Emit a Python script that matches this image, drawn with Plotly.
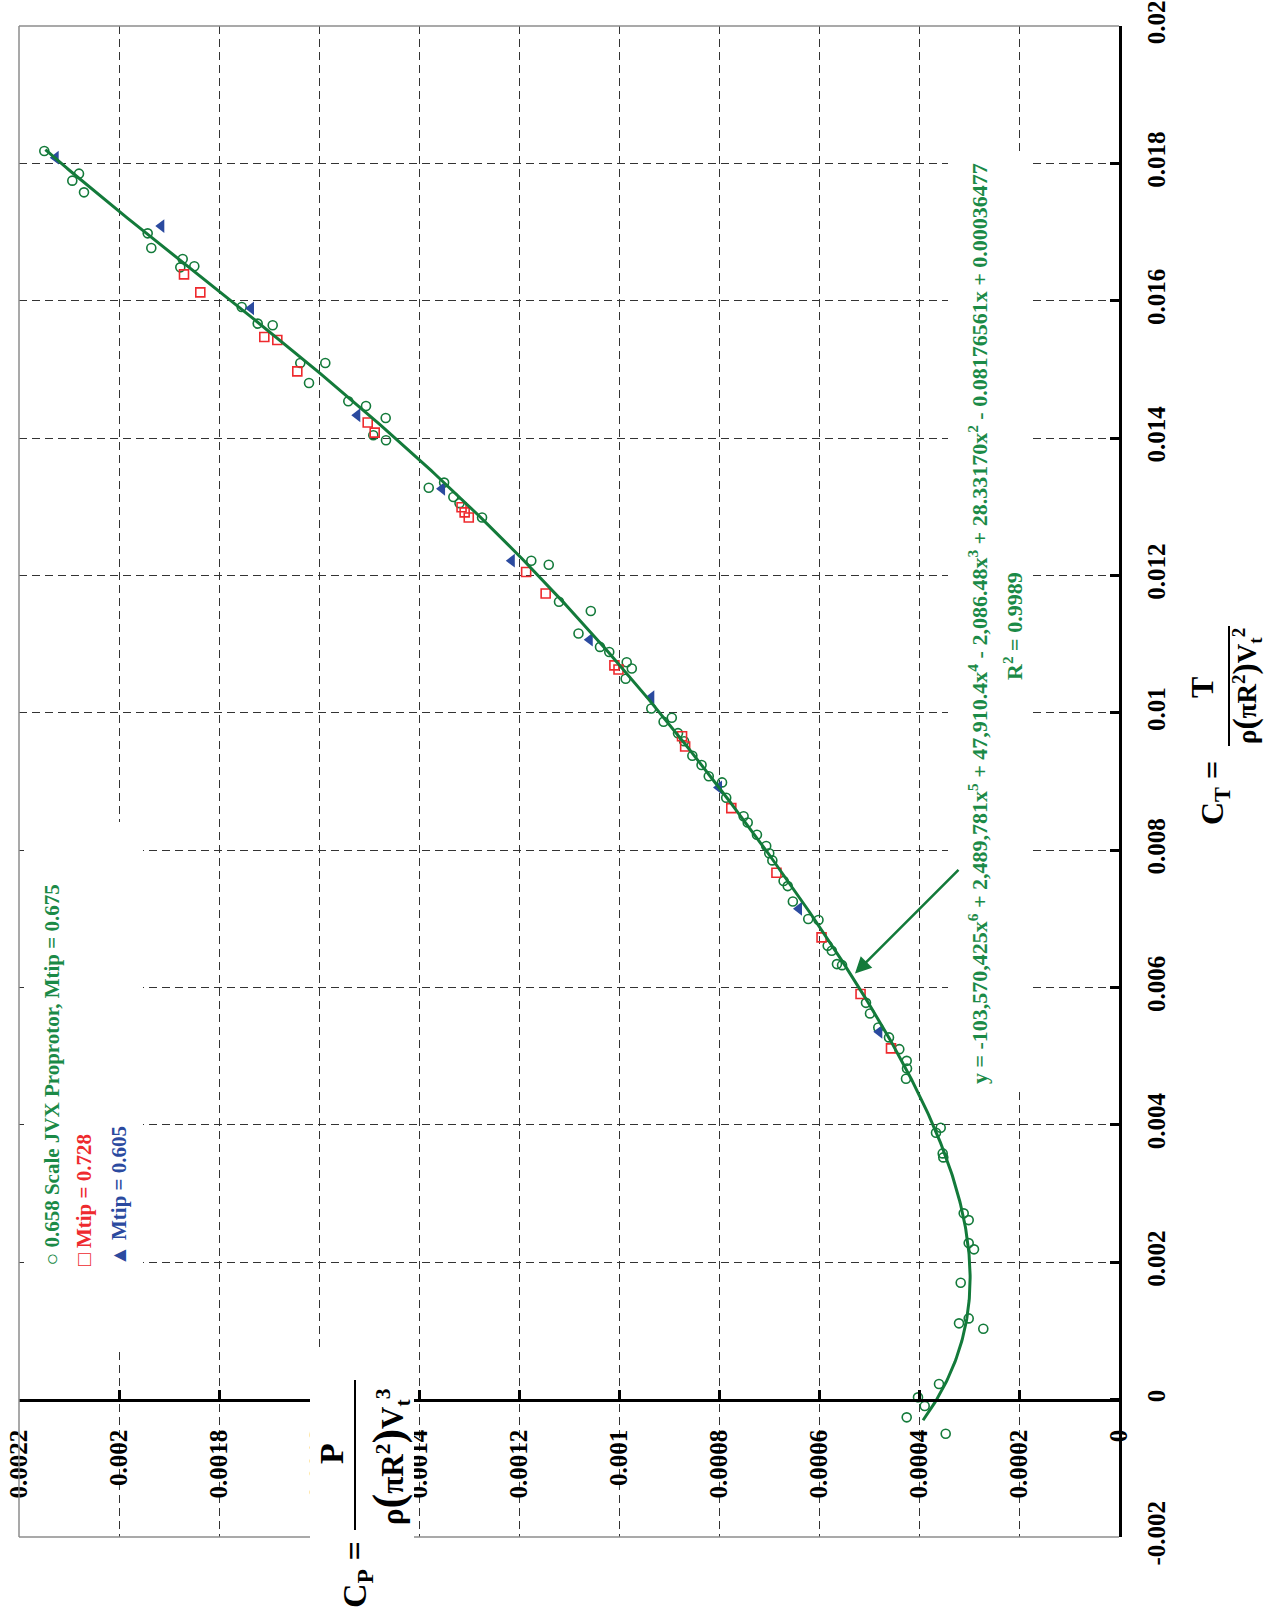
import numpy as np
import plotly.graph_objects as go

# ---------------- data (CT = thrust coeff, CP = power coeff) ----------------
ct_green = [0.018179, 0.01785, 0.017748, 0.017578, 0.016981, 0.016767, 0.016607, 0.016486, 0.016501,
            0.015908, 0.015667, 0.015642, 0.015093, 0.015093, 0.014802, 0.014536, 0.014467, 0.014293,
            0.014041, 0.013968, 0.013277, 0.013352, 0.013142, 0.013053, 0.012843, 0.012215, 0.012156,
            0.011618, 0.011483, 0.011154, 0.01096, 0.010885, 0.010736, 0.010646, 0.010497, 0.010063,
            0.009869, 0.009928, 0.009704, 0.009585, 0.009375, 0.009241, 0.009077, 0.008987, 0.008763,
            0.008493, 0.008404, 0.008224, 0.00806, 0.007955, 0.007851, 0.007552, 0.007477, 0.007253,
            0.006999, 0.006984, 0.00661, 0.006535, 0.006341, 0.006326, 0.005777, 0.005623, 0.005419,
            0.005274, 0.005103, 0.004933, 0.004822, 0.004671, 0.003958, 0.003885, 0.003585, 0.003527,
            0.002712, 0.002614, 0.002279, 0.002188, 0.001702, 0.001183, 0.001111, 0.001032, 0.000227,
            0.0000335, -0.0000932, -0.000258, -0.000496]
cp_green = [0.0021494, 0.00208, 0.0020934, 0.00207, 0.0019426, 0.0019354, 0.0018726, 0.0018774, 0.0018494,
            0.0017546, 0.0017226, 0.0016926, 0.0016374, 0.0015874, 0.00162, 0.0015414, 0.001506, 0.0014666,
            0.0014914, 0.001466, 0.0013805, 0.0013498, 0.0013313, 0.001319, 0.0012739, 0.0011754, 0.0011405,
            0.00112, 0.0010564, 0.001081, 0.001038, 0.0010195, 0.0009846, 0.0009744, 0.0009867, 0.0009354,
            0.0009108, 0.0008944, 0.000882, 0.0008698, 0.0008533, 0.0008349, 0.0008205, 0.0007939, 0.0007856,
            0.0007508, 0.0007426, 0.0007241, 0.0007056, 0.0006995, 0.0006933, 0.0006708, 0.0006626, 0.0006523,
            0.0006215, 0.000601, 0.0005826, 0.0005744, 0.0005641, 0.0005539, 0.000506, 0.000498, 0.0004814,
            0.00046, 0.0004394, 0.0004246, 0.000424, 0.000426, 0.0003566, 0.000366, 0.0003526, 0.0003514,
            0.0003106, 0.0003006, 0.0003006, 0.00029, 0.0003166, 0.0003006, 0.00032, 0.0002714, 0.00036,
            0.000402, 0.0003886, 0.0004246, 0.0003466]

ct_red = [0.016384, 0.016122, 0.015472, 0.015428, 0.014972, 0.014226, 0.01408, 0.012993, 0.012918,
          0.012843, 0.012051, 0.011737, 0.010691, 0.010631, 0.009659, 0.00951, 0.008613, 0.007671,
          0.00673, 0.005907, 0.005114]
cp_red = [0.00187, 0.0018374, 0.0017094, 0.0016834, 0.0016434, 0.0015026, 0.0014886, 0.0013149, 0.0013087,
          0.0013005, 0.0011857, 0.0011467, 0.0010092, 0.001001, 0.0008739, 0.0008677, 0.0007754, 0.0006851,
          0.0005949, 0.0005169, 0.000456]

ct_blue = [0.018083, 0.017087, 0.015889, 0.014332, 0.013262, 0.012215, 0.011065, 0.010227, 0.008912,
           0.007148, 0.005355]
cp_blue = [0.0021266, 0.0019154, 0.001736, 0.0015234, 0.0013539, 0.0012144, 0.0010585, 0.0009354, 0.0008,
           0.00064, 0.0004794]

# trend-line coefficients as printed on the chart (x^6 ... x^0)
fit_coef = [-103570425, 2489781, 47910.4, -2086.48, 28.33170, -0.08176561, 0.00036477]
fit_ct_min, fit_ct_max = -0.0003, 0.0182

ct_ticks = [-0.002, 0, 0.002, 0.004, 0.006, 0.008, 0.01, 0.012, 0.014, 0.016, 0.018, 0.02]
ct_ticktext = ["-0.002", "0", "0.002", "0.004", "0.006", "0.008", "0.01", "0.012", "0.014", "0.016",
               "0.018", "0.02"]
cp_ticks = [0, 0.0002, 0.0004, 0.0006, 0.0008, 0.001, 0.0012, 0.0014, 0.0016, 0.0018, 0.002, 0.0022]
cp_ticktext = ["0", "0.0002", "0.0004", "0.0006", "0.0008", "0.001", "0.0012", "0.0014", "0.0016",
               "0.0018", "0.002", "0.0022"]

# ---------------- style ----------------
GREEN = "#137a3a"
GREEN_TXT = "#1b8a47"
RED = "#ee2a2e"
BLUE = "#2b4a9f"
FONT = "Liberation Serif"

W, H = 1268, 1610
PL, PT, PR, PB = 19, 26, 1119, 1537   # plot area in page pixels
L, T, R, B = PL, PT, W - PR, H - PB
PW, PH = PR - PL, PB - PT


def px(x):
    return (x - PL) / PW


def py(y):
    return (PB - y) / PH


ct_fit = np.linspace(fit_ct_min, fit_ct_max, 500)
cp_fit = np.polyval(fit_coef, ct_fit)

fig = go.Figure()
fig.add_trace(go.Scatter(x=cp_green, y=ct_green, mode="markers",
                         marker=dict(symbol="circle-open", size=9, color=GREEN, line=dict(width=1.6))))
fig.add_trace(go.Scatter(x=cp_red, y=ct_red, mode="markers",
                         marker=dict(symbol="square-open", size=9, color=RED, line=dict(width=1.6))))
fig.add_trace(go.Scatter(x=cp_blue, y=ct_blue, mode="markers",
                         marker=dict(symbol="triangle-left", size=12, color=BLUE, line=dict(width=0))))
fig.add_trace(go.Scatter(x=cp_fit, y=ct_fit, mode="lines", line=dict(color=GREEN, width=3)))

tickfont = dict(family=FONT, size=25, color="black", weight="bold")
ct_zero_pos = (0 - ct_ticks[0]) / (ct_ticks[-1] - ct_ticks[0])

fig.update_layout(
    template="none",
    width=W, height=H, margin=dict(l=L, r=R, t=T, b=B, autoexpand=False),
    paper_bgcolor="white", plot_bgcolor="white", showlegend=False,
    xaxis=dict(range=[cp_ticks[-1], cp_ticks[0]], tickvals=cp_ticks, ticktext=cp_ticktext,
               tickangle=-90, anchor="free", position=ct_zero_pos, side="bottom", automargin=False,
               showline=True, linecolor="black", linewidth=3, ticklabeloverflow="allow",
               ticks="inside", ticklen=9, tickwidth=3, tickcolor="black",
               showgrid=True, gridcolor="#333333", gridwidth=1.2, griddash="8px,5px",
               zeroline=False, tickfont=tickfont, ticklabelstandoff=18),
    yaxis=dict(range=[ct_ticks[0], ct_ticks[-1]], tickvals=ct_ticks, ticktext=ct_ticktext, automargin=False,
               tickangle=-90, side="right", showline=True, linecolor="black", linewidth=3,
               ticklabeloverflow="allow",
               ticks="inside", ticklen=9, tickwidth=3, tickcolor="black",
               showgrid=True, gridcolor="#333333", gridwidth=1.2, griddash="8px,5px",
               zeroline=False, tickfont=tickfont, ticklabelstandoff=13),
)

shapes = []
gray = dict(color="#8c8c8c", width=1.5)
shapes.append(dict(type="line", xref="paper", yref="paper", x0=0, x1=0, y0=0, y1=1, line=gray, layer="above"))
shapes.append(dict(type="line", xref="paper", yref="paper", x0=0, x1=1, y0=1, y1=1, line=gray, layer="above"))
shapes.append(dict(type="line", xref="paper", yref="paper", x0=0, x1=1, y0=0, y1=0, line=gray, layer="above"))
# white label boxes that interrupt the grid
for (x0, x1, y0, y1) in [(24, 143, 822, 1352), (948, 1033, 155, 1089), (310, 414, 1352, 1610)]:
    shapes.append(dict(type="rect", xref="paper", yref="paper", x0=px(x0), x1=px(x1), y0=py(y1), y1=py(y0),
                       fillcolor="white", line=dict(width=0), layer="above"))
# fraction bars of the axis titles
shapes.append(dict(type="line", xref="paper", yref="paper", x0=px(1229), x1=px(1229), y0=py(746), y1=py(626),
                   line=dict(color="black", width=2)))
shapes.append(dict(type="line", xref="paper", yref="paper", x0=px(355), x1=px(355), y0=py(1530), y1=py(1380),
                   line=dict(color="black", width=2)))
fig.update_layout(shapes=shapes)


def txt(x, y, s, size, color="black", xa="center", ya="middle"):
    fig.add_annotation(x=px(x), y=py(y), xref="paper", yref="paper", text=s, showarrow=False,
                       textangle=-90, xanchor=xa, yanchor=ya,
                       font=dict(family=FONT, size=size, color=color, weight="bold"))


def big(c, size):
    return "<span style='font-size:%dpx'>%s</span>" % (size, c)


# axis titles
txt(1214, 793, "C<sub>T</sub> =", 32)
txt(1202, 688, "T", 32)
txt(1246, 686, "ρ" + big("(", 34) + "πR<sup>2</sup>" + big(")", 34) + "V<sub>t</sub><sup>2</sup>", 27)
txt(357, 1575, "C<sub>P</sub> =", 34)
txt(331, 1454, "P", 34)
txt(389, 1457, "ρ" + big("(", 44) + "πR<sup>2</sup>" + big(")", 44) + "V<sub>t</sub><sup>3</sup>", 31)

# legend
txt(51, 1268, "○ 0.658 Scale JVX Proprotor, Mtip = 0.675", 21, GREEN_TXT, ya="bottom")
txt(84, 1268, "□ Mtip = 0.728", 21, RED, ya="bottom")
txt(119, 1268, "▲ Mtip = 0.605", 21, BLUE, ya="bottom")

# equation
eq = ("y = -103,570,425x<sup>6</sup> + 2,489,781x<sup>5</sup> + 47,910.4x<sup>4</sup> - 2,086.48x<sup>3</sup>"
      " + 28.33170x<sup>2</sup> - 0.08176561x + 0.00036477")
txt(978, 624, eq, 22, GREEN_TXT)
txt(1013, 626, "R<sup>2</sup> = 0.9989", 22, GREEN_TXT)

fig.add_annotation(x=0.000528, y=0.006205, ax=0.000318, ay=0.007734, xref="x", yref="y",
                   axref="x", ayref="y", text="", showarrow=True, arrowhead=2, arrowsize=1.3,
                   arrowwidth=2.5, arrowcolor=GREEN)

fig.write_html("out.html", config={"displayModeBar": False},
               post_script="document.body.style.margin='0px';")
